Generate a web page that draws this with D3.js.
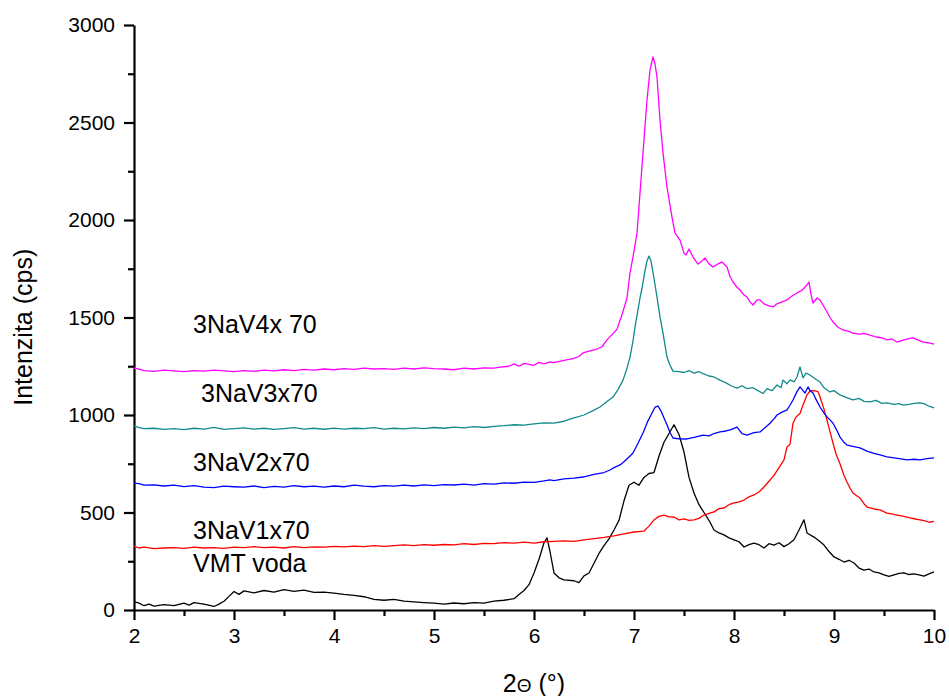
<!DOCTYPE html>
<html>
<head>
<meta charset="utf-8">
<script src="https://cdn.jsdelivr.net/npm/d3@7"></script>
<style>
  body { margin: 0; background: #fff; }
  svg { display: block; font-family: "Liberation Sans", Arial, sans-serif; }
</style>
</head>
<body>
<div id="chart"></div>
<script>
// XRD patterns, [2theta, intensity]
var vmtVoda = [[2.0,43],[2.05,35],[2.1,22],[2.15,30],[2.2,20],[2.3,28],[2.4,22],[2.5,35],[2.55,25],[2.6,38],[2.7,30],[2.8,18],[2.85,30],[2.9,45],[2.95,70],[3.0,95],[3.05,80],[3.1,98],[3.2,88],[3.3,100],[3.4,92],[3.5,105],[3.6,95],[3.7,102],[3.8,90],[3.9,92],[4.0,87],[4.1,80],[4.2,75],[4.3,68],[4.4,55],[4.5,50],[4.6,55],[4.7,45],[4.8,42],[4.9,38],[5.0,35],[5.1,30],[5.2,36],[5.3,32],[5.4,38],[5.5,35],[5.6,45],[5.7,50],[5.8,58],[5.85,80],[5.9,100],[5.95,130],[6.0,190],[6.05,260],[6.1,345],[6.13,370],[6.16,300],[6.2,190],[6.25,165],[6.3,155],[6.4,150],[6.45,140],[6.5,175],[6.55,190],[6.6,240],[6.65,290],[6.7,330],[6.75,365],[6.8,410],[6.85,460],[6.9,560],[6.95,640],[7.0,655],[7.05,640],[7.1,680],[7.15,700],[7.2,705],[7.25,790],[7.3,860],[7.35,905],[7.4,950],[7.45,900],[7.5,810],[7.55,680],[7.6,600],[7.65,540],[7.7,500],[7.75,460],[7.8,410],[7.85,395],[7.9,385],[7.95,370],[8.0,360],[8.05,350],[8.1,323],[8.15,335],[8.2,343],[8.25,335],[8.3,318],[8.35,340],[8.4,333],[8.45,345],[8.5,325],[8.55,340],[8.6,360],[8.65,410],[8.7,462],[8.73,395],[8.8,374],[8.85,355],[8.9,333],[8.95,300],[9.0,272],[9.05,260],[9.1,246],[9.15,255],[9.2,241],[9.25,215],[9.3,205],[9.35,210],[9.4,195],[9.45,190],[9.5,180],[9.55,172],[9.6,180],[9.65,188],[9.7,190],[9.75,182],[9.8,185],[9.85,180],[9.9,174],[9.95,185],[10.0,195]];

var nav1 = [[2.0,328],[2.05,318],[2.1,322],[2.2,315],[2.3,318],[2.4,320],[2.5,316],[2.6,322],[2.7,318],[2.8,320],[2.9,316],[3.0,322],[3.1,320],[3.2,325],[3.3,320],[3.4,322],[3.5,318],[3.6,325],[3.7,320],[3.8,324],[3.9,322],[4.0,326],[4.1,324],[4.2,328],[4.3,325],[4.4,330],[4.5,326],[4.6,330],[4.7,334],[4.8,330],[4.9,335],[5.0,332],[5.1,336],[5.2,334],[5.3,340],[5.4,336],[5.5,342],[5.6,340],[5.7,345],[5.8,343],[5.9,348],[6.0,343],[6.1,350],[6.2,352],[6.3,355],[6.4,352],[6.5,360],[6.6,366],[6.7,372],[6.8,380],[6.9,390],[7.0,400],[7.1,405],[7.15,430],[7.2,462],[7.25,480],[7.3,487],[7.35,478],[7.4,477],[7.45,462],[7.5,467],[7.55,460],[7.6,462],[7.65,470],[7.7,487],[7.75,495],[7.8,503],[7.85,520],[7.9,523],[7.95,540],[8.0,549],[8.05,555],[8.1,564],[8.15,580],[8.2,590],[8.25,605],[8.3,631],[8.35,660],[8.4,690],[8.45,730],[8.5,770],[8.53,836],[8.56,850],[8.59,958],[8.62,990],[8.66,1008],[8.69,1051],[8.73,1103],[8.76,1123],[8.8,1125],[8.84,1120],[8.86,1092],[8.9,1030],[8.93,974],[8.96,915],[8.99,856],[9.02,800],[9.06,750],[9.1,690],[9.13,656],[9.16,625],[9.19,600],[9.23,585],[9.26,574],[9.3,545],[9.33,528],[9.4,518],[9.46,513],[9.53,497],[9.6,490],[9.63,487],[9.7,480],[9.76,472],[9.8,468],[9.86,462],[9.9,458],[9.95,450],[10.0,455]];

var nav2 = [[2.0,651],[2.05,648],[2.1,640],[2.2,642],[2.3,636],[2.4,640],[2.5,633],[2.6,638],[2.7,630],[2.8,628],[2.9,635],[3.0,632],[3.1,630],[3.2,636],[3.3,628],[3.4,634],[3.5,630],[3.6,638],[3.7,632],[3.8,635],[3.9,630],[4.0,636],[4.1,632],[4.2,640],[4.3,635],[4.4,632],[4.5,638],[4.6,635],[4.7,640],[4.8,636],[4.9,642],[5.0,638],[5.1,643],[5.2,641],[5.3,646],[5.4,640],[5.5,648],[5.6,645],[5.7,652],[5.8,650],[5.9,656],[6.0,655],[6.1,662],[6.16,667],[6.2,664],[6.3,672],[6.4,676],[6.49,682],[6.6,695],[6.7,705],[6.76,718],[6.8,730],[6.86,744],[6.9,760],[6.95,785],[6.99,805],[7.04,855],[7.09,908],[7.14,970],[7.18,1010],[7.21,1040],[7.24,1046],[7.27,1020],[7.3,985],[7.33,950],[7.36,910],[7.39,882],[7.45,878],[7.53,877],[7.6,885],[7.69,897],[7.75,893],[7.8,905],[7.86,913],[7.92,918],[7.97,925],[8.03,938],[8.08,905],[8.13,897],[8.2,910],[8.26,913],[8.31,935],[8.36,958],[8.4,980],[8.43,1000],[8.48,1015],[8.53,1026],[8.56,1050],[8.59,1077],[8.63,1120],[8.66,1144],[8.69,1125],[8.71,1113],[8.74,1144],[8.76,1125],[8.79,1113],[8.82,1080],[8.86,1041],[8.9,1010],[8.93,990],[8.96,975],[8.99,958],[9.03,920],[9.06,887],[9.1,860],[9.13,846],[9.2,838],[9.26,831],[9.33,815],[9.39,805],[9.46,795],[9.53,785],[9.6,780],[9.67,775],[9.73,770],[9.8,773],[9.86,770],[9.93,776],[10.0,780]];

var nav3 = [[2.0,944],[2.05,935],[2.1,930],[2.2,932],[2.3,926],[2.4,930],[2.5,925],[2.6,932],[2.7,928],[2.8,936],[2.9,926],[3.0,930],[3.1,934],[3.2,928],[3.3,932],[3.4,926],[3.5,930],[3.6,935],[3.7,928],[3.8,932],[3.9,927],[4.0,933],[4.1,928],[4.2,932],[4.3,930],[4.4,935],[4.5,928],[4.6,932],[4.7,929],[4.8,934],[4.9,930],[5.0,936],[5.1,932],[5.2,938],[5.3,934],[5.4,940],[5.5,936],[5.6,942],[5.7,945],[5.8,950],[5.9,948],[6.0,955],[6.1,960],[6.2,958],[6.3,968],[6.4,985],[6.5,1000],[6.6,1025],[6.66,1041],[6.72,1065],[6.79,1092],[6.84,1130],[6.89,1179],[6.93,1240],[6.96,1297],[6.99,1380],[7.01,1451],[7.04,1540],[7.06,1600],[7.08,1650],[7.11,1740],[7.13,1790],[7.15,1815],[7.17,1790],[7.2,1700],[7.23,1605],[7.26,1503],[7.29,1420],[7.33,1297],[7.36,1255],[7.39,1225],[7.45,1222],[7.5,1218],[7.55,1228],[7.6,1215],[7.65,1222],[7.69,1212],[7.75,1200],[7.8,1195],[7.86,1179],[7.92,1165],[7.97,1150],[8.03,1138],[8.08,1150],[8.13,1135],[8.19,1140],[8.24,1125],[8.29,1110],[8.33,1135],[8.38,1125],[8.43,1154],[8.47,1140],[8.49,1179],[8.53,1160],[8.56,1180],[8.6,1170],[8.63,1195],[8.66,1246],[8.69,1190],[8.72,1215],[8.76,1205],[8.8,1190],[8.86,1169],[8.9,1140],[8.96,1118],[9.0,1125],[9.06,1103],[9.12,1090],[9.19,1077],[9.25,1085],[9.3,1070],[9.36,1067],[9.42,1075],[9.48,1060],[9.53,1062],[9.6,1055],[9.65,1058],[9.69,1051],[9.75,1055],[9.8,1060],[9.86,1062],[9.9,1058],[9.95,1045],[10.0,1036]];

var nav4 = [[2.0,1241],[2.05,1235],[2.1,1228],[2.2,1224],[2.3,1230],[2.4,1226],[2.5,1222],[2.6,1228],[2.7,1225],[2.8,1230],[2.9,1226],[3.0,1222],[3.1,1228],[3.2,1224],[3.3,1230],[3.4,1226],[3.5,1232],[3.6,1228],[3.7,1234],[3.8,1230],[3.9,1236],[4.0,1232],[4.1,1238],[4.2,1234],[4.3,1240],[4.4,1236],[4.5,1238],[4.6,1234],[4.7,1240],[4.8,1236],[4.9,1242],[5.0,1238],[5.1,1236],[5.2,1232],[5.3,1240],[5.4,1236],[5.5,1242],[5.6,1240],[5.66,1246],[5.75,1250],[5.8,1262],[5.85,1250],[5.9,1265],[6.0,1255],[6.05,1270],[6.1,1262],[6.16,1272],[6.2,1268],[6.3,1280],[6.4,1290],[6.45,1300],[6.49,1318],[6.55,1328],[6.62,1336],[6.68,1350],[6.73,1385],[6.78,1412],[6.83,1440],[6.88,1515],[6.93,1600],[6.96,1728],[7.0,1840],[7.03,1933],[7.06,2138],[7.09,2344],[7.11,2480],[7.13,2615],[7.16,2769],[7.19,2836],[7.21,2800],[7.23,2733],[7.26,2513],[7.29,2344],[7.33,2169],[7.38,2015],[7.41,1933],[7.46,1897],[7.5,1830],[7.52,1821],[7.55,1851],[7.59,1810],[7.64,1774],[7.68,1790],[7.71,1805],[7.75,1775],[7.79,1759],[7.84,1775],[7.88,1785],[7.93,1759],[7.96,1710],[7.99,1682],[8.03,1655],[8.06,1641],[8.1,1615],[8.13,1605],[8.16,1580],[8.19,1564],[8.23,1590],[8.26,1590],[8.3,1570],[8.35,1560],[8.39,1554],[8.43,1570],[8.48,1580],[8.53,1590],[8.58,1610],[8.63,1626],[8.68,1640],[8.73,1667],[8.75,1682],[8.77,1620],[8.79,1574],[8.83,1600],[8.86,1590],[8.9,1555],[8.93,1528],[8.96,1500],[8.99,1477],[9.04,1450],[9.09,1436],[9.14,1430],[9.19,1420],[9.25,1415],[9.3,1418],[9.36,1410],[9.42,1400],[9.48,1395],[9.53,1385],[9.58,1390],[9.63,1374],[9.7,1385],[9.75,1392],[9.79,1395],[9.84,1385],[9.89,1374],[9.95,1370],[10.0,1364]];

var seriesNames = ['VMT voda', '3NaV1x70', '3NaV2x70', '3NaV3x70', '3NaV4x 70'];
var seriesData = [vmtVoda, nav1, nav2, nav3, nav4];
var seriesColors = ['#000000', '#ff0000', '#0000ff', '#128a8a', '#ff00ff'];
// where each label sits: [2theta, intensity] of its baseline start
var labelAnchors = [[2.59, 195], [2.59, 365], [2.59, 713], [2.67, 1067], [2.59, 1420]];

var xTicks = [2, 3, 4, 5, 6, 7, 8, 9, 10];
var yTicks = [0, 500, 1000, 1500, 2000, 2500, 3000];

var width = 949, height = 696;
var margin = { top: 25, right: 15, bottom: 86, left: 134 };
var w = width - margin.left - margin.right;
var h = height - margin.top - margin.bottom;

var svg = d3.select('#chart').append('svg')
    .attr('width', width)
    .attr('height', height);
var g = svg.append('g')
    .attr('transform', 'translate(' + margin.left + ',' + margin.top + ')');

var x = d3.scaleLinear().domain([2, 10]).range([0, w]);
var y = d3.scaleLinear().domain([0, 3000]).range([h, 0]);

// minor ticks first, then majors on top
var xMinor = d3.axisBottom(x).tickValues(d3.range(2.5, 10, 1)).tickSize(6).tickFormat('');
var yMinor = d3.axisLeft(y).tickValues(d3.range(250, 3000, 500)).tickSize(6).tickFormat('');
g.append('g').attr('transform', 'translate(0,' + h + ')').call(xMinor).select('.domain').remove();
g.append('g').call(yMinor).select('.domain').remove();

var gx = g.append('g')
    .attr('transform', 'translate(0,' + h + ')')
    .call(d3.axisBottom(x).tickValues(xTicks).tickSize(10).tickSizeOuter(0).tickPadding(8).tickFormat(d3.format('d')));
var gy = g.append('g')
    .call(d3.axisLeft(y).tickValues(yTicks).tickSize(10).tickSizeOuter(0).tickPadding(9).tickFormat(d3.format('d')));

g.selectAll('.tick line, .domain')
    .attr('stroke', '#000')
    .attr('stroke-width', 2.2);
g.selectAll('.tick text')
    .attr('fill', '#000')
    .style('font-size', '21px')
    .style('font-family', '"Liberation Sans", Arial, sans-serif');

var line = d3.line()
    .x(function (d) { return x(d[0]); })
    .y(function (d) { return y(d[1]); });

g.selectAll('.series')
    .data(seriesData)
    .enter()
    .append('path')
    .attr('class', 'series')
    .attr('d', line)
    .attr('fill', 'none')
    .attr('stroke', function (d, i) { return seriesColors[i]; })
    .attr('stroke-width', 1.3)
    .attr('stroke-linejoin', 'round');

g.selectAll('.lbl')
    .data(seriesNames)
    .enter()
    .append('text')
    .attr('class', 'lbl')
    .attr('x', function (d, i) { return x(labelAnchors[i][0]); })
    .attr('y', function (d, i) { return y(labelAnchors[i][1]); })
    .style('font-size', '25px')
    .attr('fill', '#000')
    .text(function (d) { return d; });

// axis titles
svg.append('text')
    .attr('transform', 'translate(32,' + (margin.top + y(1450)) + ') rotate(-90)')
    .attr('text-anchor', 'middle')
    .style('font-size', '25px')
    .text('Intenzita (cps)');

var xt = svg.append('text')
    .attr('x', margin.left + x(6))
    .attr('y', 692)
    .attr('text-anchor', 'middle')
    .style('font-size', '25px');
xt.append('tspan').text('2');
xt.append('tspan').style('font-size', '19px').text('\u0398');
xt.append('tspan').text(' (\u00b0)');
</script>
</body>
</html>
